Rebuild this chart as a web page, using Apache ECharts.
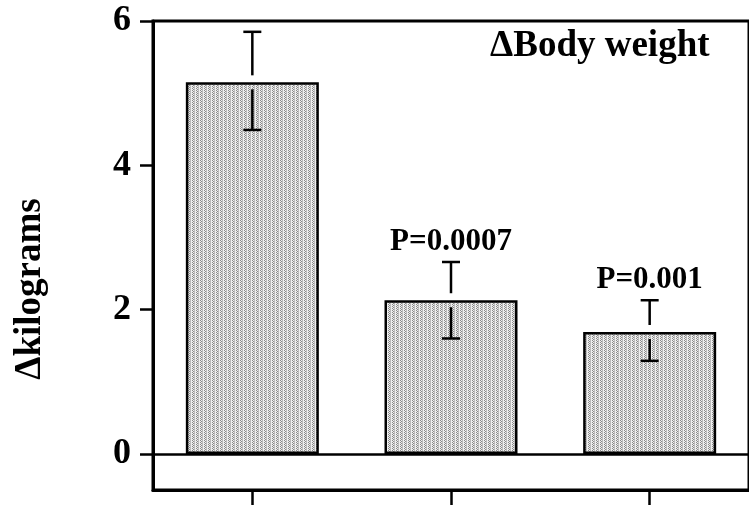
<!DOCTYPE html>
<html lang="en">
<head>
    <meta charset="UTF-8">
    <title>Body weight</title>
    <script src="https://cdn.jsdelivr.net/npm/echarts@6/dist/echarts.min.js"></script>
    <style>
        html, body { margin: 0; padding: 0; background: #ffffff; }
        #chart { width: 749px; height: 508px; }
    </style>
</head>
<body>
    <div id="chart"></div>

    <script>
        // data
        const categories = ['Group 1', 'Group 2', 'Group 3'];
        const means = [5.15, 2.13, 1.69];
        const upper = [5.85, 2.66, 2.13];
        const lower = [4.49, 1.60, 1.29];
        const pLabels = ['', 'P=0.0007', 'P=0.001'];
        const yTicks = [0, 2, 4, 6];

        const font = "'Liberation Serif', 'Times New Roman', serif";

        // dotted grey fill like the original hatch
        const pat = document.createElement('canvas');
        pat.width = 4; pat.height = 2;
        const pc = pat.getContext('2d');
        pc.fillStyle = '#efefef';
        pc.fillRect(0, 0, 4, 2);
        pc.fillStyle = '#8a8a8a';
        pc.fillRect(0, 0, 1, 1);
        pc.fillRect(1, 1, 1, 1);
        pc.fillStyle = '#bcbcbc';
        pc.fillRect(2, 0, 1, 1);
        pc.fillRect(2, 1, 1, 1);

        const chart = echarts.init(document.getElementById('chart'));

        const option = {
            animation: false,
            title: {
                text: '\u0394Body weight',
                left: 490,
                top: 28,
                padding: 0,
                textStyle: { fontFamily: font, fontWeight: 'bold', fontSize: 37, color: '#000' }
            },
            graphic: [{
                type: 'text',
                x: 30,
                y: 289,
                rotation: Math.PI / 2,
                style: {
                    text: '\u0394kilograms',
                    font: 'bold 37px ' + font,
                    fill: '#000',
                    align: 'center',
                    verticalAlign: 'middle'
                }
            }],
            grid: {
                left: 153,
                right: -1,
                top: 21,
                bottom: 18,
                show: true,
                borderColor: '#000',
                borderWidth: 3,
                backgroundColor: 'transparent'
            },
            xAxis: {
                type: 'category',
                data: categories,
                axisLine: { onZero: false, lineStyle: { color: '#000', width: 3 } },
                axisTick: { show: true, interval: 0, alignWithLabel: true, length: 15, lineStyle: { color: '#000', width: 2.5 } },
                axisLabel: { show: false }
            },
            yAxis: {
                type: 'value',
                min: -0.5,
                max: 6,
                splitLine: { show: false },
                axisLine: { show: true, lineStyle: { color: '#000', width: 3 } },
                axisTick: { show: true, length: 13, customValues: yTicks, lineStyle: { color: '#000', width: 2.5 } },
                axisLabel: {
                    customValues: yTicks,
                    margin: 22,
                    color: '#000',
                    fontFamily: font,
                    fontWeight: 'bold',
                    fontSize: 36
                }
            },
            series: [{
                type: 'bar',
                data: means,
                barWidth: 133,
                itemStyle: {
                    color: { image: pat, repeat: 'repeat' },
                    borderColor: '#000',
                    borderWidth: 2.5
                },
                markLine: {
                    silent: true,
                    symbol: 'none',
                    label: { show: false },
                    lineStyle: { color: '#000', width: 2.5, type: 'solid' },
                    data: [{ yAxis: 0 }]
                },
                z: 2
            }, {
                type: 'custom',
                data: categories.map((c, i) => [i, means[i], upper[i], lower[i]]),
                z: 5,
                renderItem: function (params, api) {
                    const i = api.value(0);
                    const m = api.coord([i, api.value(1)]);
                    const hi = api.coord([i, api.value(2)]);
                    const lo = api.coord([i, api.value(3)]);
                    const x = m[0];
                    const gap = 7;
                    const cap = 9;
                    const st = { stroke: '#000', lineWidth: 2.5 };
                    const children = [
                        { type: 'line', shape: { x1: x, y1: hi[1], x2: x, y2: m[1] - gap }, style: st },
                        { type: 'line', shape: { x1: x - cap, y1: hi[1], x2: x + cap, y2: hi[1] }, style: st },
                        { type: 'line', shape: { x1: x, y1: m[1] + gap, x2: x, y2: lo[1] }, style: st },
                        { type: 'line', shape: { x1: x - cap, y1: lo[1], x2: x + cap, y2: lo[1] }, style: st }
                    ];
                    const txt = pLabels[params.dataIndex];
                    if (txt) {
                        children.push({
                            type: 'text',
                            x: x,
                            y: hi[1] - 20,
                            style: {
                                text: txt,
                                font: 'bold 31px ' + font,
                                fill: '#000',
                                align: 'center',
                                verticalAlign: 'middle'
                            }
                        });
                    }
                    return { type: 'group', children: children };
                }
            }]
        };

        chart.setOption(option);
    </script>
</body>
</html>
